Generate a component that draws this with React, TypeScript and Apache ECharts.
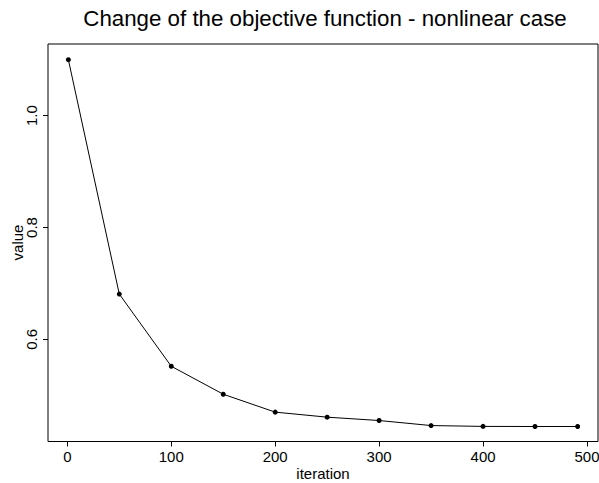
import React, { useEffect, useRef } from "react";
import * as echarts from "echarts";

const iterations = [1, 50, 100, 150, 200, 250, 300, 350, 400, 450, 491];
const values = [1.1, 0.681, 0.552, 0.502, 0.47, 0.461, 0.455, 0.446, 0.4445, 0.4443, 0.4443];
const xTicks = [0, 100, 200, 300, 400, 500];
const yTicks = [0.6, 0.8, 1.0];
const xName = "iteration";
const yName = "value";

const FONT = "'Liberation Sans', Arial, Helvetica, sans-serif";

export default function App() {
  const ref = useRef<HTMLDivElement>(null);
  useEffect(() => {
    if (!ref.current) return;
    const chart = echarts.init(ref.current, null, { renderer: "svg" });
    chart.setOption({
      animation: false,
      backgroundColor: "#ffffff",
      textStyle: { fontFamily: FONT, color: "#000" },
      title: {
        text: "Change of the objective function - nonlinear case",
        left: 320,
        textAlign: "center",
        top: 2,
        textStyle: { fontFamily: FONT, fontSize: 22.3, fontWeight: "normal", color: "#000" },
      },
      grid: {
        left: 48,
        right: 1,
        top: 44,
        bottom: 41.5,
        containLabel: false,
        outerBoundsMode: "none",
        show: true,
        borderColor: "#000",
        borderWidth: 1,
        backgroundColor: "transparent",
      },
      graphic: [
        {
          type: "text",
          x: 323,
          y: 473.5,
          style: {
            text: xName,
            font: `15px ${FONT}`,
            fill: "#000",
            textAlign: "center",
            textVerticalAlign: "middle",
          },
        },
        {
          type: "text",
          x: 17.5,
          y: 242.5,
          rotation: Math.PI / 2,
          style: {
            text: yName,
            font: `15px ${FONT}`,
            fill: "#000",
            textAlign: "center",
            textVerticalAlign: "middle",
          },
        },
      ],
      xAxis: {
        type: "value",
        min: -18.6,
        max: 510.6,
        axisLine: { show: false, onZero: false },
        splitLine: { show: false },
        axisTick: {
          show: true,
          length: 5,
          customValues: xTicks,
          lineStyle: { color: "#000", width: 1 },
        },
        axisLabel: {
          customValues: xTicks,
          margin: 7.5,
          fontFamily: FONT,
          fontSize: 15,
          color: "#000",
        },
      },
      yAxis: {
        type: "value",
        min: 0.4175,
        max: 1.128,
        axisLine: { show: false, onZero: false },
        splitLine: { show: false },
        axisTick: {
          show: true,
          length: 5,
          customValues: yTicks,
          lineStyle: { color: "#000", width: 1 },
        },
        axisLabel: {
          customValues: yTicks,
          rotate: 90,
          margin: 9.5,
          fontFamily: FONT,
          fontSize: 15,
          color: "#000",
          formatter: (v: number) => v.toFixed(1),
        },
      },
      series: [
        {
          type: "line",
          data: iterations.map((it, i) => [it, values[i]]),
          symbol: "circle",
          symbolSize: 5,
          showSymbol: true,
          itemStyle: { color: "#000" },
          lineStyle: { color: "#000", width: 1 },
          silent: true,
        },
      ],
    });
    return () => chart.dispose();
  }, []);
  return (
    <div
      ref={ref}
      style={{ position: "fixed", left: 0, top: 0, width: 599, height: 483, background: "#fff" }}
    />
  );
}
